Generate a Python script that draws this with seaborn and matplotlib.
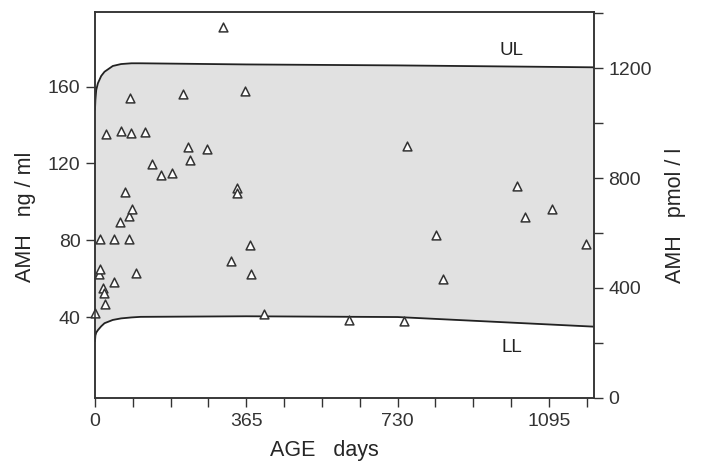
import seaborn as sns
import matplotlib.pyplot as plt
import pandas as pd
from matplotlib.ticker import MultipleLocator

# individual measurements (age in days, AMH in ng/ml)
age_days = [0, 9, 11, 11, 19, 21, 23, 27, 45, 47, 61, 63, 73, 81, 81, 85, 87, 90,
            99, 120, 138, 160, 186, 212, 224, 229, 270, 309, 327, 343, 343, 363,
            373, 377, 408, 614, 745, 754, 823, 839, 1018, 1037, 1102, 1184]
amh_ng = [42.1, 62.7, 65.1, 80.6, 55.4, 52.5, 46.8, 135.3, 58.2, 80.6, 89.4, 137.0,
          105.3, 92.8, 80.6, 153.9, 136.0, 96.3, 63.2, 136.5, 119.7, 114.0, 114.9,
          156.1, 128.4, 121.8, 127.5, 191.1, 69.3, 107.1, 104.5, 157.8, 77.6, 62.5,
          41.6, 38.6, 38.1, 129.1, 82.8, 59.8, 108.3, 92.3, 96.3, 78.1]

# reference limits
ref_days = [0, 1, 3, 7, 15, 23, 43, 63, 88, 110, 365, 730, 1204]
upper_limit = [148, 153, 158.2, 161.7, 165.5, 167.7, 170.7, 171.7, 172.1, 172.1, 171.5, 171.0, 170.0]
lower_limit = [27.5, 30.5, 32.0, 33.3, 35.3, 36.9, 38.6, 39.4, 39.9, 40.2, 40.5, 40.1, 35.1]

x_ticks = [0, 365, 730, 1095]
left_ticks = [40, 80, 120, 160]
right_ticks = [0, 400, 800, 1200]

sns.set_style("ticks")
plt.rcParams["font.family"] = ["Liberation Sans", "DejaVu Sans"]
plt.rcParams["axes.edgecolor"] = "#333333"
plt.rcParams["xtick.color"] = "#333333"
plt.rcParams["ytick.color"] = "#333333"

pts = pd.DataFrame({"age": age_days, "amh": amh_ng})
ref = pd.DataFrame({"age": ref_days, "ul": upper_limit, "ll": lower_limit})

fig = plt.figure(figsize=(7.01, 4.67), dpi=100)
ax = fig.add_axes([0.1355, 0.1478, 0.7118, 0.8266])

ax.fill_between(ref["age"], ref["ll"], ref["ul"], color="#e1e1e1", lw=0, zorder=0)
sns.lineplot(data=ref, x="age", y="ul", ax=ax, color="#222222", lw=1.3,
             sort=False, estimator=None)
sns.lineplot(data=ref, x="age", y="ll", ax=ax, color="#222222", lw=1.3,
             sort=False, estimator=None)
sns.scatterplot(data=pts, x="age", y="amh", ax=ax, marker="^", s=40,
                facecolor="white", edgecolor="#333333", linewidth=1.1, zorder=3,
                clip_on=False)

ax.text(1004, 178.5, "UL", fontsize=13.5, ha="center", va="center", color="#222222")
ax.text(1007, 24.3, "LL", fontsize=13.5, ha="center", va="center", color="#222222")

ax.set_xlim(0, 1204)
ax.set_ylim(-2.0, 198.8)
ax.set_xticks(x_ticks)
ax.xaxis.set_minor_locator(MultipleLocator(91.25))
ax.set_yticks(left_ticks)
ax.tick_params(axis="both", which="both", direction="out", length=6.5, width=1,
               labelsize=14, pad=4)

ax.set_xlabel("AGE   days", fontsize=15.5)
ax.set_ylabel("AMH   ng / ml", fontsize=15.5)
ax.xaxis.set_label_coords(0.459, -0.108)
ax.yaxis.set_label_coords(-0.118, 0.47)

ax2 = ax.twinx()
ax2.set_ylim(0, 1404)
ax2.set_yticks(right_ticks)
ax2.yaxis.set_minor_locator(MultipleLocator(200))
ax2.tick_params(axis="y", which="both", direction="out", length=6.5, width=1,
                labelsize=14, pad=4)
ax2.set_ylabel("AMH   pmol / l", fontsize=15.5, rotation=90)
ax2.yaxis.set_label_coords(1.142, 0.473)

for a in (ax, ax2):
    for sp in a.spines.values():
        sp.set_linewidth(1.1)
        sp.set_color("#333333")

fig.savefig("out.png", dpi=100)
